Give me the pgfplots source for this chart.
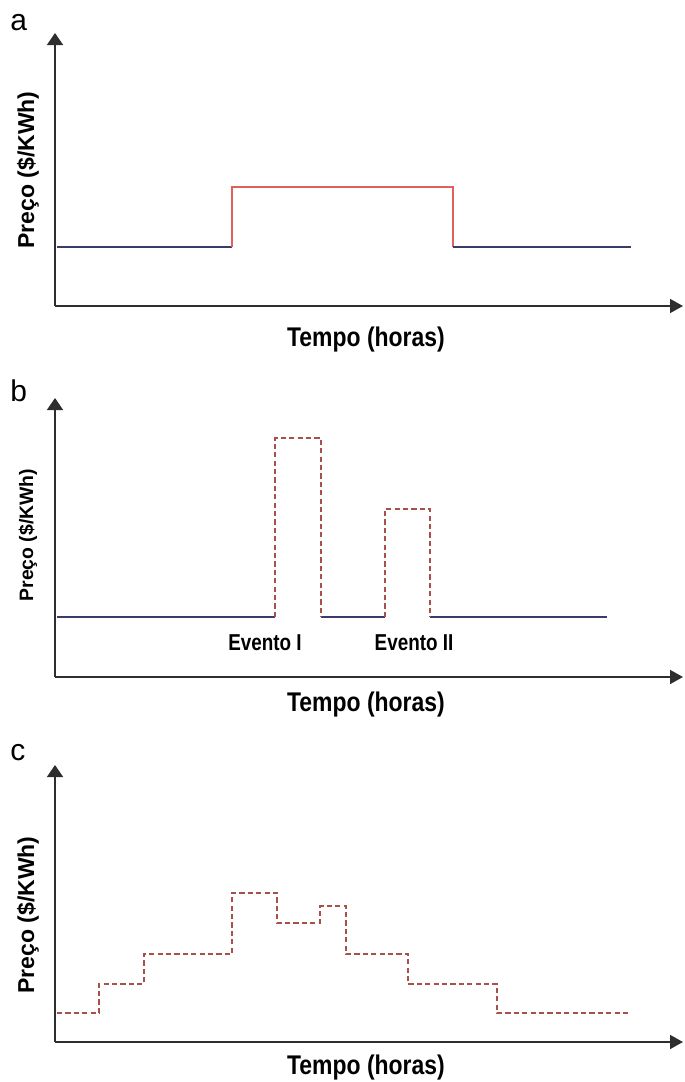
\documentclass[border=0pt]{standalone}
\usepackage{pgfplots}
\pgfplotsset{compat=1.18}
\usepackage{fontspec}
\setmainfont{Liberation Sans}
\usetikzlibrary{arrows.meta}
\definecolor{axisgray}{HTML}{2E2E2E}
\definecolor{navy}{HTML}{3B3B6B}
\definecolor{redsolid}{HTML}{E0605E}
\definecolor{reddash}{HTML}{A8504C}
\pgfplotsset{
  panel/.style={
    scale only axis, width=314pt, anchor=south west,
    xmin=0, xmax=628, ymin=0,
    axis lines=left, ticks=none, clip=false,
    axis line style={draw=axisgray, line width=0.8pt},
    x axis line style={-{Triangle[length=6.5pt,width=7pt]}},
    y axis line style={-{Triangle[length=6pt,width=8pt]}},
  },
  base/.style={navy, line width=1.2pt, mark=none},
  hi/.style={redsolid, line width=0.9pt, mark=none},
  dsh/.style={reddash, line width=1pt, mark=none, dash pattern=on 2.6pt off 1.6pt},
}
\newcommand{\ylab}{\fontsize{11.5pt}{12pt}\selectfont\bfseries Preço (\$/KWh)}
\newcommand{\xlab}{\scalebox{0.85}[1]{\fontsize{13.5pt}{14pt}\selectfont\bfseries Tempo (horas)}}
\begin{document}
\begin{tikzpicture}
\useasboundingbox (0,0) rectangle (342.5pt,-541pt);
% ---------- panel a ----------
\begin{axis}[panel, at={(27.5pt,-153pt)}, height=136.5pt, ymax=273]
\addplot[base] coordinates {(2,59) (177,59)};
\addplot[hi] coordinates {(177,59) (177,119) (398,119) (398,59)};
\addplot[base] coordinates {(398,59) (576,59)};
\end{axis}
% ---------- panel b ----------
\begin{axis}[panel, at={(27.5pt,-338.5pt)}, height=139.5pt, ymax=279]
\addplot[base] coordinates {(2,60) (220,60)};
\addplot[base] coordinates {(266,60) (330,60)};
\addplot[base] coordinates {(375,60) (552,60)};
\addplot[dsh] coordinates {(220,60) (220,239) (266,239) (266,60)};
\addplot[dsh] coordinates {(330,60) (330,168) (375,168) (375,60)};
\node at (axis cs:210,34) {\scalebox{0.82}[1]{\fontsize{11.5pt}{12pt}\selectfont\bfseries Evento I}};
\node at (axis cs:359,34) {\scalebox{0.82}[1]{\fontsize{11.5pt}{12pt}\selectfont\bfseries Evento II}};
\end{axis}
% ---------- panel c ----------
\begin{axis}[panel, at={(27.5pt,-521pt)}, height=138.5pt, ymax=277]
\addplot[dsh] coordinates {(2,29) (44,29) (44,58) (89,58) (89,88) (177,88) (177,149) (222,149) (222,119) (265,119) (265,136) (291,136) (291,88) (353,88) (353,58) (442,58) (442,29) (576,29)};
\end{axis}
% ---------- labels ----------
\node[rotate=90] at (14pt,-85pt) {\ylab};
\node[rotate=90] at (14pt,-267.5pt) {\fontsize{9.7pt}{10pt}\selectfont\bfseries Preço (\$/KWh)};
\node[rotate=90] at (14pt,-457.5pt) {\ylab};
\node at (183pt,-170pt) {\xlab};
\node at (183pt,-352.5pt) {\xlab};
\node at (183pt,-534pt) {\xlab};
\node[anchor=base west, inner sep=0pt] at (5pt,-15pt) {\fontsize{15pt}{16pt}\selectfont a};
\node[anchor=base west, inner sep=0pt] at (5pt,-200.5pt) {\fontsize{15pt}{16pt}\selectfont b};
\node[anchor=base west, inner sep=0pt] at (5pt,-380pt) {\fontsize{15pt}{16pt}\selectfont c};
\end{tikzpicture}
\end{document}
